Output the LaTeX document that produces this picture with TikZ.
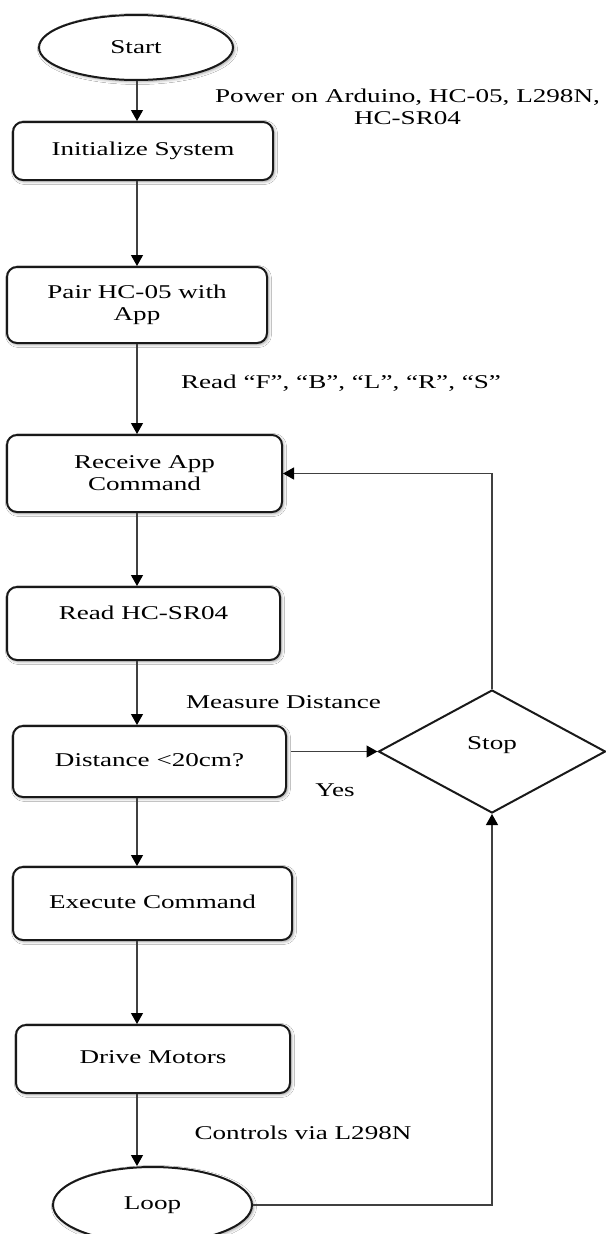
\documentclass[tikz,border=0pt]{standalone}
\usepackage{fontspec}
\setmainfont{Liberation Serif}[FakeStretch=1.39]
\usetikzlibrary{shapes.geometric,arrows.meta,shadows.blur}
\begin{document}
\begin{tikzpicture}[x=1pt,y=-1pt,
  every node/.style={font=\fontsize{19.5}{22}\selectfont},
  soft/.style={blur shadow={shadow xshift=1.5pt, shadow yshift=-1.5pt,
      shadow blur radius=3pt, shadow opacity=40}},
  box/.style={draw=black!90, line width=2pt, rounded corners=10pt,
      fill=white, soft, align=center, inner sep=0pt},
  term/.style={ellipse, draw=black!90, line width=2pt, fill=white,
      soft, inner sep=0pt},
  one/.style={text height=13pt, text depth=4pt},
  flow/.style={draw=black!75, line width=1.2pt,
      -{Triangle[width=12pt,length=11pt,color=black]}},
  note/.style={align=center}]

% page
\fill[white] (0,0) rectangle (605,1234);
\useasboundingbox (0,0) rectangle (605,1234);

% main column of the flow
\coordinate (col) at (137,0);

\node[term, minimum width=194pt, minimum height=65pt] (start) at (136,47.5) {Start};
\node[box, one, minimum width=260pt, minimum height=58pt] (init) at (143,151) {Initialize System};
\node[box, minimum width=260pt, minimum height=76pt] (pair) at (137,305) {Pair HC-05 with\\App};
\node[box, minimum width=275pt, minimum height=77pt] (recv) at (144.5,473.5) {Receive App\\Command};
\node[box, minimum width=273pt, minimum height=73pt, text height=13pt, text depth=21.4pt] (read) at (143.5,623.5) {Read HC-SR04};
\node[box, one, minimum width=273pt, minimum height=71pt] (dist) at (149.5,761.5) {Distance <20cm?};
\node[box, one, minimum width=279pt, minimum height=73pt] (exec) at (152.5,903.5) {Execute Command};
\node[box, one, minimum width=274pt, minimum height=68pt] (drive) at (153,1059) {Drive Motors};
\node[term, minimum width=199pt, minimum height=76pt] (loop) at (152.5,1205) {Loop};
\node[diamond, draw=black!90, line width=2pt, fill=white, minimum width=227pt,
      minimum height=123pt, inner sep=0pt, text height=13pt, text depth=17.4pt] (stop) at (492,751.5) {Stop};

% connectors
\draw[flow] (start.south -| col) -- (init.north -| col);
\draw[flow] (init.south -| col) -- (pair.north -| col);
\draw[flow] (pair.south -| col) -- (recv.north -| col);
\draw[flow] (recv.south -| col) -- (read.north -| col);
\draw[flow] (read.south -| col) -- (dist.north -| col);
\draw[flow] (dist.south -| col) -- (exec.north -| col);
\draw[flow] (exec.south -| col) -- (drive.north -| col);
\draw[flow] (drive.south -| col) -- (loop.north -| col);
\draw[flow] ([xshift=4pt]dist.east |- stop.west) -- (stop.west);
\draw[flow] (loop.east) -| (stop.south);
\draw[flow] (stop.north) |- (recv.east);

% annotations
\node[note] (powerlbl) at (407.5,107) {Power on Arduino, HC-05, L298N,\\HC-SR04};
\node[one] (readlbl) at (341,383.8) {Read “F”, “B”, “L”, “R”, “S”};
\node[one] (measlbl) at (283.5,703.8) {Measure Distance};
\node[one] (yeslbl) at (335,791.8) {Yes};
\node[one] (ctrllbl) at (303,1134.8) {Controls via L298N};
\end{tikzpicture}
\end{document}
